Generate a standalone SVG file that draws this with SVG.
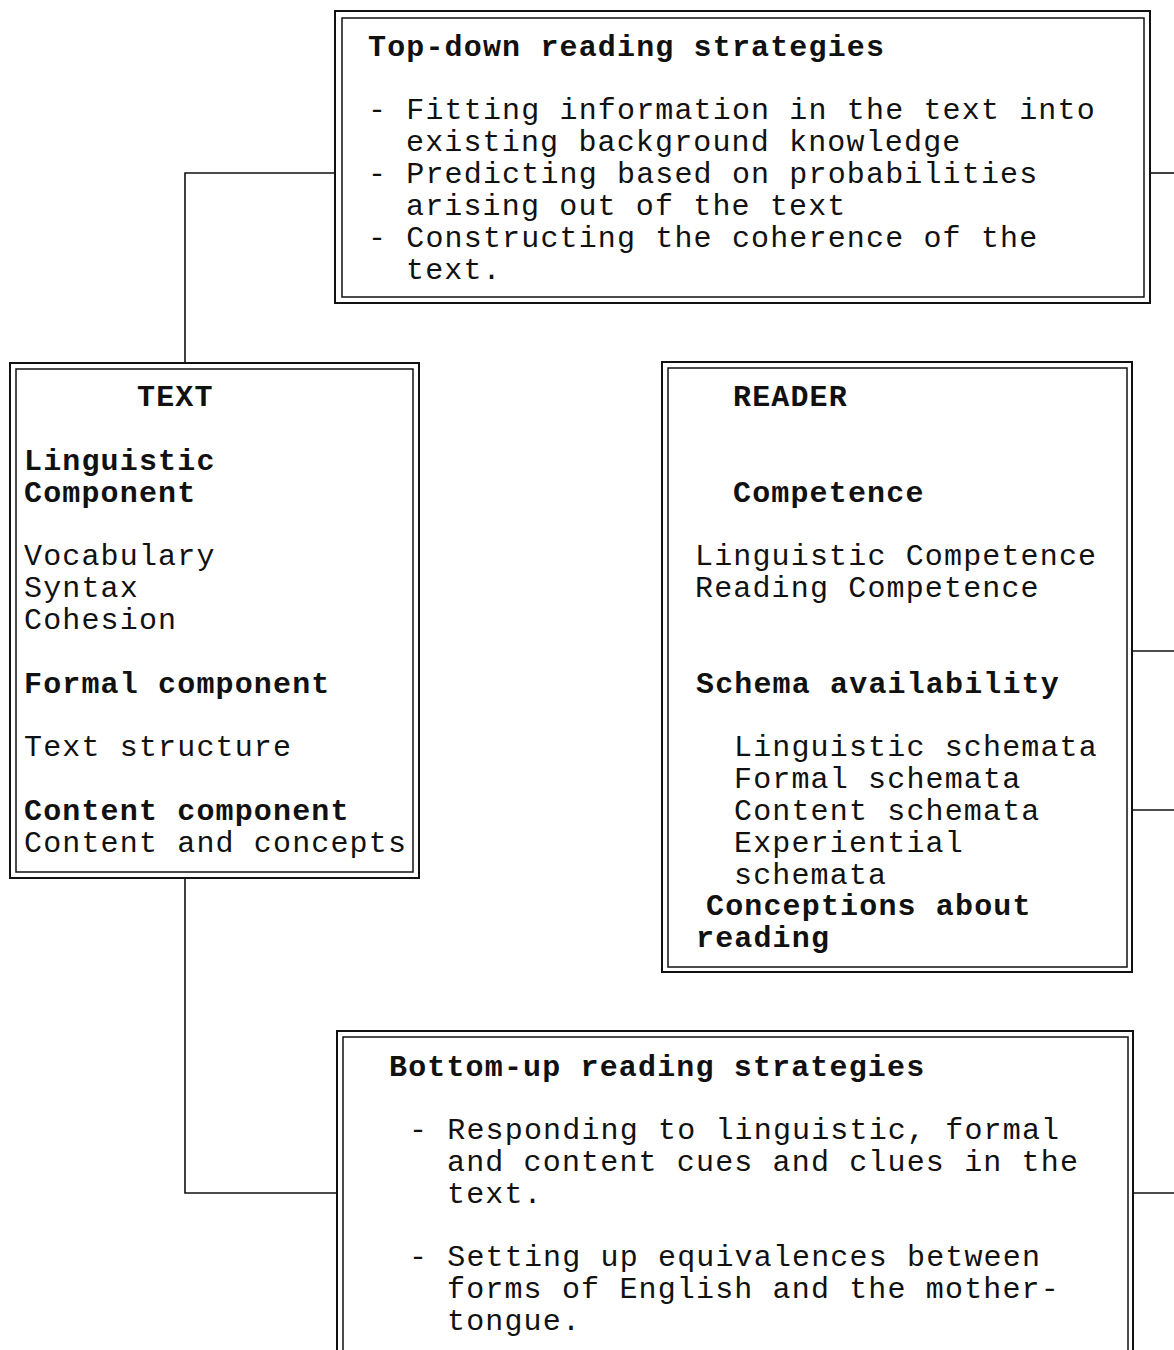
<svg xmlns="http://www.w3.org/2000/svg" width="1174" height="1350" viewBox="0 0 1174 1350">
<style>
.t{font-family:"Liberation Mono","Courier New",monospace;font-size:30px;letter-spacing:1.15px;fill:#111}
.b{font-weight:bold}
.o{fill:none;stroke:#111;stroke-width:2}
.i{fill:none;stroke:#111;stroke-width:1.5}
.c{fill:none;stroke:#111;stroke-width:1.6}
</style>
<rect width="1174" height="1350" fill="#fff"/>
<g id="connectors">
<polyline class="c" points="335,173 185,173 185,363"/>
<polyline class="c" points="185,878 185,1193 337,1193"/>
<line class="c" x1="1150" y1="173" x2="1174" y2="173"/>
<line class="c" x1="1132" y1="651" x2="1174" y2="651"/>
<line class="c" x1="1132" y1="810" x2="1174" y2="810"/>
<line class="c" x1="1133" y1="1193" x2="1174" y2="1193"/>
</g>
<g id="topdown">
<rect class="o" x="335" y="11" width="815" height="292"/>
<rect class="i" x="342" y="18" width="802" height="279"/>
<text class="t b" x="368" y="56">Top-down reading strategies</text>
<text class="t" x="368" y="119">- Fitting information in the text into</text>
<text class="t" x="406" y="151">existing background knowledge</text>
<text class="t" x="368" y="183">- Predicting based on probabilities</text>
<text class="t" x="406" y="215">arising out of the text</text>
<text class="t" x="368" y="247">- Constructing the coherence of the</text>
<text class="t" x="406" y="279">text.</text>
</g>
<g id="text">
<rect class="o" x="10" y="363" width="409" height="515"/>
<rect class="i" x="16" y="369" width="397" height="503"/>
<text class="t b" x="137" y="406">TEXT</text>
<text class="t b" x="24" y="470">Linguistic</text>
<text class="t b" x="24" y="502">Component</text>
<text class="t" x="24" y="565">Vocabulary</text>
<text class="t" x="24" y="597">Syntax</text>
<text class="t" x="24" y="629">Cohesion</text>
<text class="t b" x="24" y="693">Formal component</text>
<text class="t" x="24" y="756">Text structure</text>
<text class="t b" x="24" y="820">Content component</text>
<text class="t" x="24" y="852">Content and concepts</text>
</g>
<g id="reader">
<rect class="o" x="662" y="362" width="470" height="610"/>
<rect class="i" x="668" y="368" width="459" height="599"/>
<text class="t b" x="733" y="406">READER</text>
<text class="t b" x="733" y="502">Competence</text>
<text class="t" x="695" y="565">Linguistic Competence</text>
<text class="t" x="695" y="597">Reading Competence</text>
<text class="t b" x="696" y="693">Schema availability</text>
<text class="t" x="734" y="756">Linguistic schemata</text>
<text class="t" x="734" y="788">Formal schemata</text>
<text class="t" x="734" y="820">Content schemata</text>
<text class="t" x="734" y="852">Experiential</text>
<text class="t" x="734" y="884">schemata</text>
<text class="t b" x="706" y="915">Conceptions about</text>
<text class="t b" x="696" y="947">reading</text>
</g>
<g id="bottomup">
<rect class="o" x="337" y="1031" width="796" height="340"/>
<rect class="i" x="343" y="1037" width="785" height="330"/>
<text class="t b" x="389" y="1076">Bottom-up reading strategies</text>
<text class="t" x="409" y="1139">- Responding to linguistic, formal</text>
<text class="t" x="447" y="1171">and content cues and clues in the</text>
<text class="t" x="447" y="1203">text.</text>
<text class="t" x="409" y="1266">- Setting up equivalences between</text>
<text class="t" x="447" y="1298">forms of English and the mother-</text>
<text class="t" x="447" y="1330">tongue.</text>
</g>
</svg>
